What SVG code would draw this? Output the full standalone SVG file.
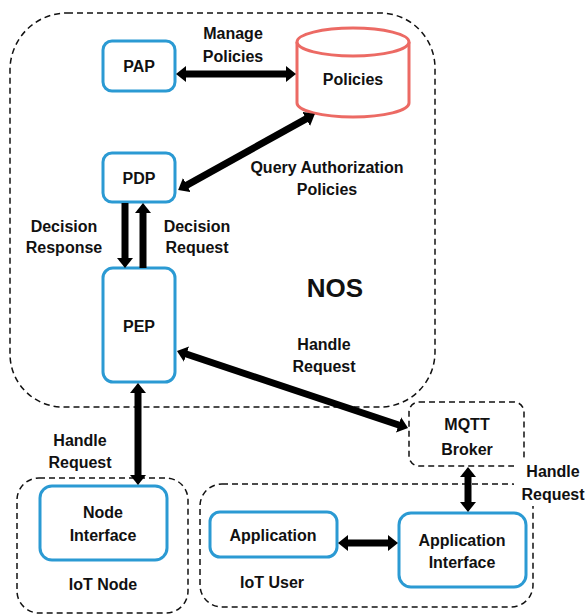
<svg xmlns="http://www.w3.org/2000/svg" width="586" height="615" viewBox="0 0 586 615">
<style>
text{font-family:"Liberation Sans",Arial,sans-serif;font-weight:bold;font-size:16px;fill:#111;text-anchor:middle}
.box{fill:#fff;stroke:#2B9AD3;stroke-width:3}
.dash{fill:none;stroke:#111;stroke-width:1.5;stroke-dasharray:6 4}
.db{fill:#fff;stroke:#EC6A64;stroke-width:3}
.conn{stroke:#000;stroke-width:7;fill:none}
.big{font-size:26px}
</style>
<defs>
<marker id="ah" markerUnits="userSpaceOnUse" viewBox="0 0 10 16" markerWidth="10" markerHeight="16" refX="1" refY="8" orient="auto-start-reverse">
<path d="M0,0 L10,8 L0,16 z" fill="#000"/>
</marker>
</defs>

<g id="containers">
<path id="NOS-container" class="dash" d="M67,13 H380 A55,55 0 0 1 435,68 V352 A55,55 0 0 1 380,407 H63 A53,53 0 0 1 10,354 V70 A57,57 0 0 1 67,13 Z"/>
<rect id="iot-node-container" class="dash" x="17" y="478" width="171" height="135" rx="22"/>
<rect id="iot-user-container" class="dash" x="200" y="484" width="333" height="123" rx="22"/>
</g>

<g id="PAP"><rect class="box" x="103" y="41" width="72" height="50" rx="9"/><text x="139" y="72">PAP</text></g>
<g id="Policies">
<path class="db" d="M297,42 V103 A56,14 0 0 0 409,103 V42"/>
<ellipse class="db" cx="353" cy="42" rx="56" ry="14"/>
<text x="353" y="85">Policies</text>
</g>
<g id="PDP"><rect class="box" x="103" y="153" width="72" height="49" rx="9"/><text x="139" y="184">PDP</text></g>
<g id="PEP"><rect class="box" x="103" y="268" width="72" height="114" rx="10"/><text x="139" y="332">PEP</text></g>
<g id="MQTT"><rect class="dash" x="409" y="402" width="115" height="64" rx="10"/><text x="467" y="430">MQTT</text><text x="467" y="455">Broker</text></g>
<g id="NodeInterface"><rect class="box" x="40" y="486" width="127" height="74" rx="12"/><text x="103" y="518">Node</text><text x="103" y="541">Interface</text></g>
<g id="Application"><rect class="box" x="210" y="512" width="127" height="45" rx="10"/><text x="273" y="541">Application</text></g>
<g id="ApplicationInterface"><rect class="box" x="399" y="513" width="127" height="74" rx="12"/><text x="462" y="546">Application</text><text x="462" y="568">Interface</text></g>

<g id="connectors">
<line class="conn" x1="185" y1="74" x2="287" y2="74" marker-start="url(#ah)" marker-end="url(#ah)"/>
<line class="conn" x1="186" y1="185.6" x2="307" y2="118.4" marker-start="url(#ah)" marker-end="url(#ah)"/>
<line class="conn" x1="125" y1="203" x2="125" y2="259" marker-end="url(#ah)"/>
<line class="conn" x1="143" y1="268" x2="143" y2="212" marker-end="url(#ah)"/>
<line class="conn" x1="185.5" y1="353.8" x2="399.5" y2="425.2" marker-start="url(#ah)" marker-end="url(#ah)"/>
<line class="conn" x1="138" y1="392" x2="138" y2="476" marker-start="url(#ah)" marker-end="url(#ah)"/>
<line class="conn" x1="468" y1="476" x2="468" y2="503" marker-start="url(#ah)" marker-end="url(#ah)"/>
<line class="conn" x1="347" y1="543" x2="389" y2="543" marker-start="url(#ah)" marker-end="url(#ah)"/>
</g>

<g id="labels">
<text x="233" y="39">Manage</text><text x="233" y="62">Policies</text>
<text x="327" y="173">Query Authorization</text><text x="327" y="195">Policies</text>
<text x="64" y="232">Decision</text><text x="64" y="253">Response</text>
<text x="197" y="232">Decision</text><text x="197" y="253">Request</text>
<text class="big" x="335" y="297">NOS</text>
<text x="324" y="350">Handle</text><text x="324" y="372">Request</text>
<text x="80" y="446">Handle</text><text x="80" y="468">Request</text>
<rect x="514" y="460" width="72" height="46" fill="#fff"/>
<text x="553" y="477">Handle</text><text x="553" y="500">Request</text>
<text x="103" y="590">IoT Node</text>
<text x="272" y="588">IoT User</text>
</g>
</svg>
